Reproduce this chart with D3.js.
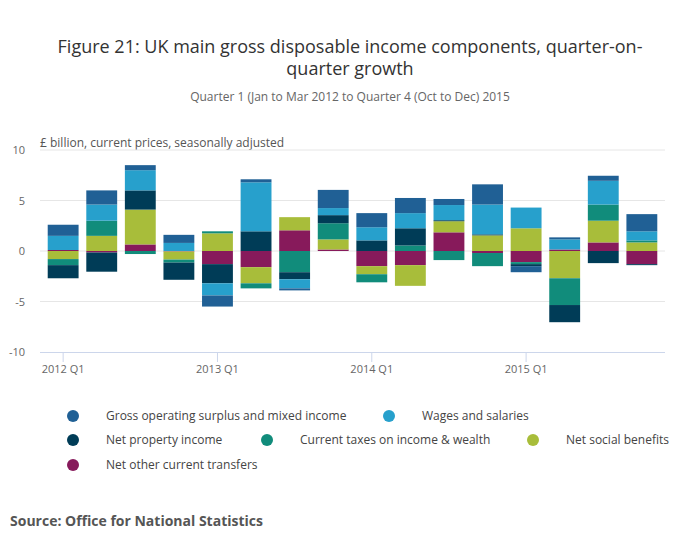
<!DOCTYPE html>
<html><head><meta charset="utf-8">
<script src="https://cdn.jsdelivr.net/npm/d3@7"></script>
<style>body{margin:0;background:#fff;font-family:"Open Sans",sans-serif}</style>
</head><body><div id="chart"></div>
<script>
const quarters = ['2012 Q1','2012 Q2','2012 Q3','2012 Q4','2013 Q1','2013 Q2','2013 Q3','2013 Q4',
  '2014 Q1','2014 Q2','2014 Q3','2014 Q4','2015 Q1','2015 Q2','2015 Q3','2015 Q4']
const seriesNames = ['Gross operating surplus and mixed income','Wages and salaries','Net property income',
  'Current taxes on income & wealth','Net social benefits','Net other current transfers']
const colors = ['#206095','#27a0cc','#003c57','#118c7b','#a8bd3a','#871a5b']
const gos      = [1.1,1.4,0.5,0.8,-1.1,0.3,-0.2,1.8,1.4,1.5,0.6,2.0,-0.6,0.2,0.5,1.7]
const wages    = [1.4,1.6,2.0,0.8,-1.2,4.85,-0.9,0.7,1.3,1.5,1.5,2.95,2.05,1.0,2.35,0.9]
const property = [-1.3,-1.9,1.9,-1.7,-1.9,1.95,-0.7,0.8,1.05,1.7,0.1,0.1,-0.2,-1.7,-1.2,-0.1]
const taxes    = [-0.6,1.5,-0.3,-0.3,0.2,-0.5,-2.1,1.6,-0.8,0.55,-0.9,-1.3,-0.2,-2.65,1.6,0.2]
const social   = [-0.8,1.5,3.45,-0.8,1.75,-1.6,1.3,1.0,-0.8,-2.05,1.1,1.55,2.25,-2.7,2.15,0.85]
const other    = [0.1,-0.15,0.65,-0.05,-1.3,-1.6,2.05,0.15,-1.5,-1.4,1.85,-0.2,-1.1,0.15,0.85,-1.3]
const yTicks = [-10,-5,0,5,10]
const xLabels = ['2012 Q1','2013 Q1','2014 Q1','2015 Q1']

const seriesValues = [gos, wages, property, taxes, social, other]
const rows = quarters.map((q, i) => {
  let r = {q}
  seriesNames.forEach((s, j) => r[s] = seriesValues[j][i])
  return r
})

const width = 700, height = 549
const svg = d3.select('#chart').append('svg').attr('width', width).attr('height', height)

const x = d3.scaleBand().domain(quarters).range([40, 665]).padding(0.2)
const y = d3.scaleLinear().domain([-10, 10]).range([352, 150])

svg.append('text').attr('x', 350).attr('y', 53).attr('text-anchor', 'middle')
  .attr('font-size', 18).attr('fill', '#333').text('Figure 21: UK main gross disposable income components, quarter-on-')
svg.append('text').attr('x', 350).attr('y', 75).attr('text-anchor', 'middle')
  .attr('font-size', 18).attr('fill', '#333').text('quarter growth')
svg.append('text').attr('x', 350).attr('y', 101).attr('text-anchor', 'middle')
  .attr('font-size', 12).attr('fill', '#666').text('Quarter 1 (Jan to Mar 2012 to Quarter 4 (Oct to Dec) 2015')
svg.append('text').attr('x', 40).attr('y', 147)
  .attr('font-size', 12).attr('fill', '#555').text('£ billion, current prices, seasonally adjusted')

// gridlines + y labels
svg.append('g').selectAll('line').data(yTicks.filter(d => d > -10)).enter().append('line')
  .attr('x1', 40).attr('x2', 665).attr('y1', d => y(d)).attr('y2', d => y(d))
  .attr('stroke', '#e6e6e6')
svg.append('g').selectAll('text').data(yTicks).enter().append('text')
  .attr('x', 25).attr('y', d => y(d) + 4).attr('text-anchor', 'end')
  .attr('font-size', 11).attr('fill', '#666').text(d => d)

const stack = d3.stack().keys(seriesNames.slice().reverse()).offset(d3.stackOffsetDiverging)
const layers = stack(rows)

svg.append('g').selectAll('g').data(layers).enter().append('g')
  .attr('fill', d => colors[seriesNames.indexOf(d.key)])
  .selectAll('rect').data(d => d).enter().append('rect')
  .attr('x', d => x(d.data.q)).attr('width', x.bandwidth())
  .attr('y', d => y(Math.max(d[0], d[1])))
  .attr('height', d => Math.abs(y(d[0]) - y(d[1])))

// x axis
svg.append('line').attr('x1', 40).attr('x2', 665).attr('y1', 352.5).attr('y2', 352.5).attr('stroke', '#ccd6eb')
svg.append('g').selectAll('line').data(xLabels).enter().append('line')
  .attr('x1', d => x(d) + x.bandwidth() / 2).attr('x2', d => x(d) + x.bandwidth() / 2)
  .attr('y1', 352).attr('y2', 362).attr('stroke', '#ccd6eb')
svg.append('g').selectAll('text').data(xLabels).enter().append('text')
  .attr('x', d => x(d) + x.bandwidth() / 2).attr('y', 373).attr('text-anchor', 'middle')
  .attr('font-size', 11).attr('fill', '#666').text(d => d)

// legend
const legendPos = [[73,416],[389,416],[73,440],[267,440],[533,440],[73,465]]
const legend = svg.append('g').selectAll('g').data(seriesNames).enter().append('g')
  .attr('transform', (d, i) => `translate(${legendPos[i][0]},${legendPos[i][1]})`)
legend.append('circle').attr('r', 6).attr('fill', (d, i) => colors[i])
legend.append('text').attr('x', 33).attr('y', 4).attr('font-size', 12).attr('fill', '#444').text(d => d)

svg.append('text').attr('x', 10).attr('y', 526).attr('font-size', 14).attr('font-weight', 'bold')
  .attr('fill', '#555').text('Source: Office for National Statistics')
</script></body></html>
